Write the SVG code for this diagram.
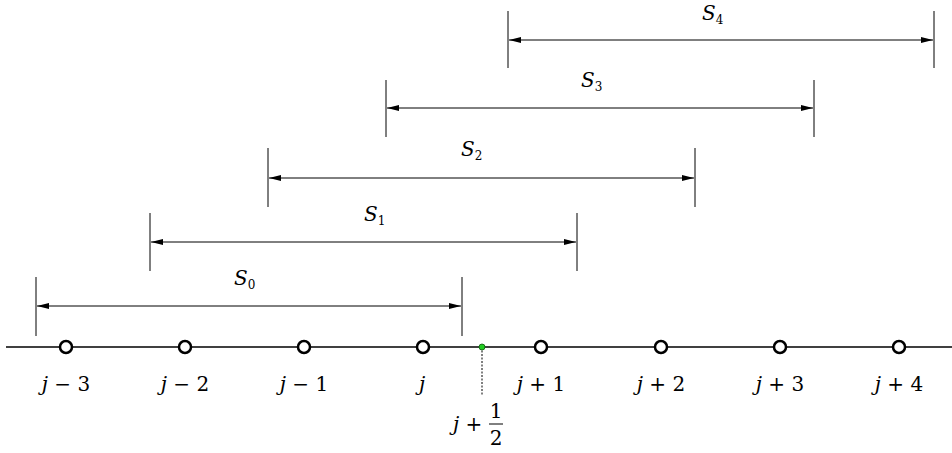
<svg xmlns="http://www.w3.org/2000/svg" width="952" height="453" viewBox="0 0 952 453">
<style>
.ax{stroke:#000;stroke-width:1.3;fill:none}
.tk{stroke:#000;stroke-width:1;fill:none}
.ar{stroke:#000;stroke-width:1;fill:none;marker-start:url(#ah);marker-end:url(#ah)}
.nd{fill:#fff;stroke:#000;stroke-width:2.5}
.t{font-family:'DejaVu Serif','Liberation Serif',serif;font-size:20px;fill:#000}
.i{font-style:italic}
.s{font-size:12px}
</style>
<defs>
<marker id="ah" viewBox="0 0 12 6" refX="12" refY="3" markerWidth="12" markerHeight="6" markerUnits="userSpaceOnUse" orient="auto-start-reverse">
<path d="M0,0 L12,3 L0,6 Z" fill="#000"/>
</marker>
</defs>
<g id="connectors">
<line class="ax" x1="6" y1="347" x2="952" y2="347"/>
<line x1="482" y1="347" x2="482" y2="396" stroke="#000" stroke-width="1" stroke-dasharray="2,1.5"/>
<g id="S0"><line class="tk" x1="36" y1="277" x2="36" y2="336"/><line class="tk" x1="462" y1="277" x2="462" y2="336"/><line class="ar" x1="37" y1="306" x2="461" y2="306"/></g>
<g id="S1"><line class="tk" x1="150" y1="213" x2="150" y2="271"/><line class="tk" x1="577" y1="213" x2="577" y2="271"/><line class="ar" x1="151" y1="242" x2="576" y2="242"/></g>
<g id="S2"><line class="tk" x1="268" y1="148" x2="268" y2="207"/><line class="tk" x1="695" y1="148" x2="695" y2="207"/><line class="ar" x1="269" y1="178" x2="694" y2="178"/></g>
<g id="S3"><line class="tk" x1="386" y1="80" x2="386" y2="137"/><line class="tk" x1="814" y1="80" x2="814" y2="137"/><line class="ar" x1="387" y1="108" x2="813" y2="108"/></g>
<g id="S4"><line class="tk" x1="508" y1="11" x2="508" y2="68"/><line class="tk" x1="934" y1="11" x2="934" y2="68"/><line class="ar" x1="509" y1="40" x2="933" y2="40"/></g>
</g>
<g id="span-labels">
<text class="t" x="234" y="285"><tspan class="i">S</tspan><tspan class="s" dy="4">0</tspan></text>
<text class="t" x="364" y="221"><tspan class="i">S</tspan><tspan class="s" dy="4">1</tspan></text>
<text class="t" x="461" y="156"><tspan class="i">S</tspan><tspan class="s" dy="4">2</tspan></text>
<text class="t" x="581" y="87"><tspan class="i">S</tspan><tspan class="s" dy="4">3</tspan></text>
<text class="t" x="702" y="20"><tspan class="i">S</tspan><tspan class="s" dy="4">4</tspan></text>
</g>
<g id="n-3"><circle class="nd" cx="66" cy="347" r="6"/><text class="t" x="66" y="391" text-anchor="middle"><tspan class="i">j</tspan> − 3</text></g>
<g id="n-2"><circle class="nd" cx="185" cy="347" r="6"/><text class="t" x="185" y="391" text-anchor="middle"><tspan class="i">j</tspan> − 2</text></g>
<g id="n-1"><circle class="nd" cx="304" cy="347" r="6"/><text class="t" x="304" y="391" text-anchor="middle"><tspan class="i">j</tspan> − 1</text></g>
<g id="n0"><circle class="nd" cx="423" cy="347" r="6"/><text class="t i" x="422" y="391" text-anchor="middle">j</text></g>
<g id="n1"><circle class="nd" cx="541" cy="347" r="6"/><text class="t" x="541" y="391" text-anchor="middle"><tspan class="i">j</tspan> + 1</text></g>
<g id="n2"><circle class="nd" cx="661" cy="347" r="6"/><text class="t" x="661" y="391" text-anchor="middle"><tspan class="i">j</tspan> + 2</text></g>
<g id="n3"><circle class="nd" cx="780" cy="347" r="6"/><text class="t" x="780" y="391" text-anchor="middle"><tspan class="i">j</tspan> + 3</text></g>
<g id="n4"><circle class="nd" cx="899" cy="347" r="6"/><text class="t" x="899" y="391" text-anchor="middle"><tspan class="i">j</tspan> + 4</text></g>
<g id="half">
<circle cx="482" cy="347" r="3" fill="#22cc22" stroke="#0a5a0a" stroke-width="0.8"/>
<text class="t" x="453" y="431"><tspan class="i">j</tspan> +</text>
<text class="t" x="496" y="418" text-anchor="middle">1</text>
<line x1="489" y1="424" x2="503" y2="424" stroke="#000" stroke-width="1"/>
<text class="t" x="496" y="445" text-anchor="middle">2</text>
</g>
</svg>
